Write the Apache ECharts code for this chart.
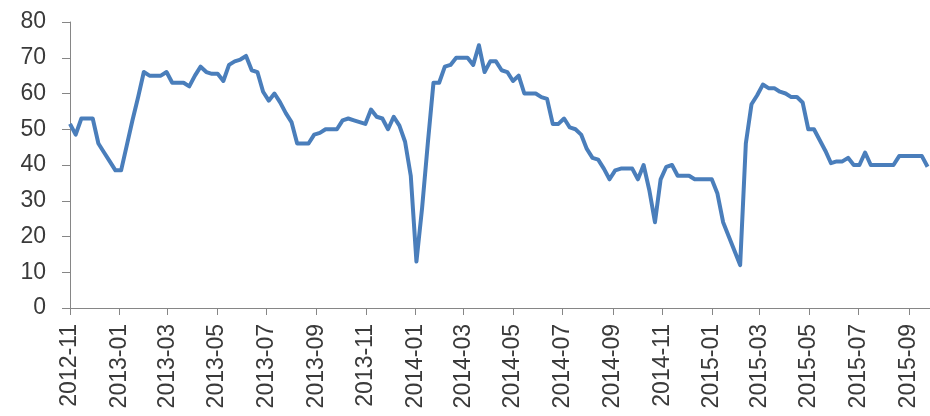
<!DOCTYPE html>
<html>
<head>
<meta charset="utf-8">
<script src="https://cdn.jsdelivr.net/npm/echarts@6/dist/echarts.min.js"></script>
<style>
  html, body { margin: 0; padding: 0; background: #fff; }
  #chart { width: 930px; height: 416px; }
</style>
</head>
<body>
<div id="chart"></div>
<script>
// weekly observations starting 2012-11-01
var startDate = [2012, 10, 1]
var weekCount = 152
var values = [
  51.5, 48.5, 53, 53, 53, 46, 43.5, 41, 38.5, 38.5,
  45.5, 52.5, 59, 66, 65, 65, 65, 66, 63, 63,
  63, 62, 65, 67.5, 66, 65.5, 65.5, 63.5, 68, 69,
  69.5, 70.5, 66.5, 66, 60.5, 58, 60, 57.5, 54.5, 52,
  46, 46, 46, 48.5, 49, 50, 50, 50, 52.5, 53,
  52.5, 52, 51.5, 55.5, 53.5, 53, 50, 53.5, 51, 46.5,
  37, 13, 28, 46, 63, 63, 67.5, 68, 70, 70,
  70, 68, 73.5, 66, 69, 69, 66.5, 66, 63.5, 65,
  60, 60, 60, 59, 58.5, 51.5, 51.5, 53, 50.5, 50,
  48.5, 44.5, 42, 41.5, 39, 36, 38.5, 39, 39, 39,
  36, 40, 33, 24, 36, 39.5, 40, 37, 37, 37,
  36, 36, 36, 36, 32, 24, 20, 16, 12, 46,
  57, 59.5, 62.5, 61.5, 61.5, 60.5, 60, 59, 59, 57.5,
  50, 50, 47, 44, 40.5, 41, 41, 42, 40, 40,
  43.5, 40, 40, 40, 40, 40, 42.5, 42.5, 42.5, 42.5,
  42.5, 39.5
]
// x-axis labels every two months
var tickMonths = [
  '2012-11', '2013-01', '2013-03', '2013-05', '2013-07', '2013-09',
  '2013-11', '2014-01', '2014-03', '2014-05', '2014-07', '2014-09',
  '2014-11', '2015-01', '2015-03', '2015-05', '2015-07', '2015-09'
]
var yTicks = [0, 10, 20, 30, 40, 50, 60, 70, 80]

var DAY = 24 * 3600 * 1000
var t0 = new Date(startDate[0], startDate[1], startDate[2]).getTime()
var dates = []
for (var i = 0; i < weekCount; i++) {
  dates.push(t0 + i * 7 * DAY)
}
var seriesData = dates.map(function (d, i) { return [d, values[i]] })
var tickValues = tickMonths.map(function (s) {
  var p = s.split('-')
  return new Date(+p[0], +p[1] - 1, 1).getTime()
})

var chart = echarts.init(document.getElementById('chart'))
chart.setOption({
  backgroundColor: '#fff',
  animation: false,
  grid: { left: 70, right: 0, top: 22, bottom: 108 },
  xAxis: {
    // numeric axis holding timestamps, so ticks can sit on month starts
    type: 'value',
    min: t0,
    max: t0 + 1060 * DAY,
    axisLine: { lineStyle: { color: '#868686', width: 1 } },
    axisTick: {
      show: true,
      length: 7,
      customValues: tickValues,
      lineStyle: { color: '#868686' }
    },
    axisLabel: {
      customValues: tickValues,
      rotate: 90,
      margin: 16,
      color: '#3a3a3a',
      fontSize: 23,
      fontFamily: 'Liberation Sans',
      formatter: function (v) {
        var d = new Date(v)
        var m = d.getMonth() + 1
        return d.getFullYear() + '-' + (m < 10 ? '0' + m : m)
      }
    },
    splitLine: { show: false }
  },
  yAxis: {
    type: 'value',
    min: yTicks[0],
    max: yTicks[yTicks.length - 1],
    interval: 10,
    axisLine: { show: true, lineStyle: { color: '#868686', width: 1 } },
    axisTick: { show: true, length: 8, lineStyle: { color: '#868686' } },
    axisLabel: {
      margin: 24,
      color: '#3a3a3a',
      fontSize: 23,
      fontFamily: 'Liberation Sans'
    },
    splitLine: { show: false }
  },
  series: [
    {
      type: 'line',
      data: seriesData,
      showSymbol: false,
      lineStyle: { color: '#4a7ebb', width: 4, join: 'round' },
      itemStyle: { color: '#4a7ebb' }
    }
  ]
})
</script>
</body>
</html>
